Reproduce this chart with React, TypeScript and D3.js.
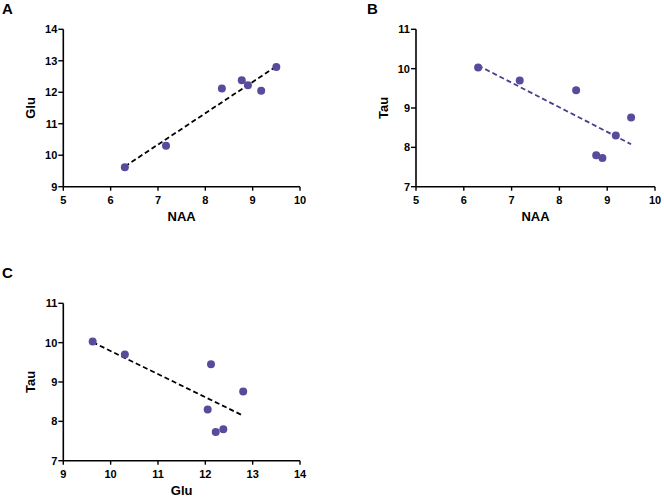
import React from "react";
import * as d3 from "d3";

// Data (7 subjects)
const naa = [6.3, 7.17, 8.35, 8.77, 8.9, 9.18, 9.5];
const glu = [9.62, 10.3, 12.12, 12.38, 12.22, 12.05, 12.8];
const tau = [10.03, 9.7, 9.45, 7.8, 7.73, 8.3, 8.76];

const naaTicks = [5, 6, 7, 8, 9, 10];
const gluTicks = [9, 10, 11, 12, 13, 14];
const tauTicks = [7, 8, 9, 10, 11];

const FONT = "'Liberation Sans', Arial, sans-serif";
const DOT = "#5a4a9b";

function regression(xs: number[], ys: number[]) {
  const mx = d3.mean(xs) as number;
  const my = d3.mean(ys) as number;
  let sxy = 0, sxx = 0;
  xs.forEach((x, i) => { sxy += (x - mx) * (ys[i] - my); sxx += (x - mx) * (x - mx); });
  const b = sxy / sxx;
  const a = my - b * mx;
  return (x: number) => a + b * x;
}

type PanelProps = {
  letter: string; lx: number; ly: number;
  xs: number[]; ys: number[];
  xTicks: number[]; yTicks: number[];
  xRange: [number, number]; yRange: [number, number];
  xLabel: string; yLabel: string;
  lineColor: string;
};

function Panel(p: PanelProps) {
  const x = d3.scaleLinear().domain([p.xTicks[0], p.xTicks[p.xTicks.length - 1]]).range(p.xRange);
  const y = d3.scaleLinear().domain([p.yTicks[0], p.yTicks[p.yTicks.length - 1]]).range(p.yRange);
  const f = regression(p.xs, p.ys);
  const x0 = d3.min(p.xs) as number, x1 = d3.max(p.xs) as number;
  const axY = p.yRange[0];
  const axX = p.xRange[0];
  const line = d3.line<number>().x((d) => x(d)).y((d) => y(f(d)));
  return (
    <g>
      <text x={p.lx} y={p.ly} fontFamily={FONT} fontWeight="bold" fontSize={15} fill="#000">{p.letter}</text>
      <line x1={axX} x2={p.xRange[1]} y1={axY} y2={axY} stroke="#000" strokeWidth={1.6} />
      <line x1={axX} x2={axX} y1={axY} y2={p.yRange[1]} stroke="#000" strokeWidth={1.6} />
      {p.xTicks.map((t) => (
        <g key={"x" + t}>
          <line x1={x(t)} x2={x(t)} y1={axY} y2={axY + 4} stroke="#000" strokeWidth={1.4} />
          <text x={x(t)} y={axY + 17} textAnchor="middle" fontFamily={FONT} fontWeight="bold" fontSize={11}>{t}</text>
        </g>
      ))}
      {p.yTicks.map((t) => (
        <g key={"y" + t}>
          <line x1={axX - 5} x2={axX} y1={y(t)} y2={y(t)} stroke="#000" strokeWidth={1.4} />
          <text x={axX - 6} y={y(t) + 4} textAnchor="end" fontFamily={FONT} fontWeight="bold" fontSize={11}>{t}</text>
        </g>
      ))}
      <text x={(p.xRange[0] + p.xRange[1]) / 2} y={axY + 34} textAnchor="middle" fontFamily={FONT} fontWeight="bold" fontSize={13}>{p.xLabel}</text>
      <text transform={`translate(${axX - 28},${(p.yRange[0] + p.yRange[1]) / 2}) rotate(-90)`} textAnchor="middle" fontFamily={FONT} fontWeight="bold" fontSize={13}>{p.yLabel}</text>
      <path d={line([x0, x1]) || ""} fill="none" stroke={p.lineColor} strokeWidth={1.8} strokeDasharray="5,3" />
      {p.xs.map((v, i) => (
        <circle key={i} cx={x(v)} cy={y(p.ys[i])} r={4} fill={DOT} />
      ))}
    </g>
  );
}

export default function App() {
  return (
    <svg width={664} height={497} style={{ position: "absolute", left: 0, top: 0, background: "#fff" }}>
      <Panel letter="A" lx={2} ly={14} xs={naa} ys={glu} xTicks={naaTicks} yTicks={gluTicks}
        xRange={[63.3, 300]} yRange={[186.7, 29.3]} xLabel="NAA" yLabel="Glu" lineColor="#000" />
      <Panel letter="B" lx={367} ly={14} xs={naa} ys={tau} xTicks={naaTicks} yTicks={tauTicks}
        xRange={[416, 655]} yRange={[186.7, 29.3]} xLabel="NAA" yLabel="Tau" lineColor="#4a3f8f" />
      <Panel letter="C" lx={2} ly={278} xs={glu} ys={tau} xTicks={gluTicks} yTicks={tauTicks}
        xRange={[63.3, 300]} yRange={[460.7, 303.3]} xLabel="Glu" yLabel="Tau" lineColor="#000" />
    </svg>
  );
}
